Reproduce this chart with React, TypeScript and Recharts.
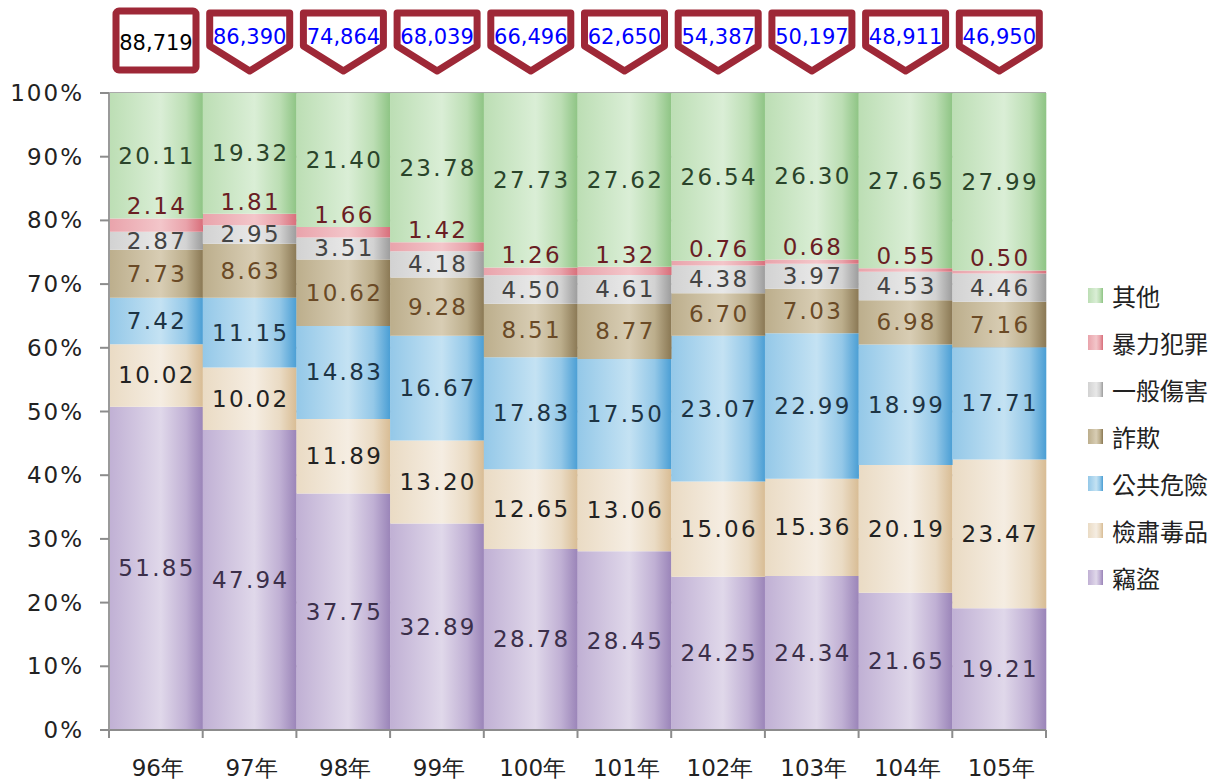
import React from "react";
import { BarChart, Bar, XAxis, YAxis, CartesianGrid, LabelList } from "recharts";

const categories = ["96年", "97年", "98年", "99年", "100年", "101年", "102年", "103年", "104年", "105年"];
const theft = [51.85, 47.94, 37.75, 32.89, 28.78, 28.45, 24.25, 24.34, 21.65, 19.21];
const drugs = [10.02, 10.02, 11.89, 13.2, 12.65, 13.06, 15.06, 15.36, 20.19, 23.47];
const publicDanger = [7.42, 11.15, 14.83, 16.67, 17.83, 17.5, 23.07, 22.99, 18.99, 17.71];
const fraud = [7.73, 8.63, 10.62, 9.28, 8.51, 8.77, 6.7, 7.03, 6.98, 7.16];
const injury = [2.87, 2.95, 3.51, 4.18, 4.5, 4.61, 4.38, 3.97, 4.53, 4.46];
const violent = [2.14, 1.81, 1.66, 1.42, 1.26, 1.32, 0.76, 0.68, 0.55, 0.5];
const other = [20.11, 19.32, 21.4, 23.78, 27.73, 27.62, 26.54, 26.3, 27.65, 27.99];
const totals = [88719, 86390, 74864, 68039, 66496, 62650, 54387, 50197, 48911, 46950];
const yTicks = [0, 0.1, 0.2, 0.3, 0.4, 0.5, 0.6, 0.7, 0.8, 0.9, 1];

const FONT = "'DejaVu Sans', sans-serif";
const W = 1224;
const H = 783;
const X_H = 53;
const M = { top: 93, right: 178, bottom: 0, left: 0 };
const Y_W = 109;
const PLOT_W = W - M.left - M.right - Y_W;
const PLOT_BOTTOM = H - M.bottom - X_H;

type SeriesDef = {
  key: string;
  name: string;
  values: number[];
  c0: string;
  c1: string;
  c2: string;
  label: string;
  above?: boolean;
};

const series: SeriesDef[] = [
  { key: "theft", name: "竊盜", values: theft, c0: "#c0b0d4", c1: "#e0d8ea", c2: "#9a84b8", label: "#3b2f4a" },
  { key: "drugs", name: "檢肅毒品", values: drugs, c0: "#eadbc4", c1: "#f5ede2", c2: "#d8bc94", label: "#222222" },
  { key: "publicDanger", name: "公共危險", values: publicDanger, c0: "#94c8e8", c1: "#c4e2f3", c2: "#4a9ed4", label: "#1d3444" },
  { key: "fraud", name: "詐欺", values: fraud, c0: "#bcae8c", c1: "#d8cdb4", c2: "#8a7854", label: "#6a4a26" },
  { key: "injury", name: "一般傷害", values: injury, c0: "#d2d2d2", c1: "#e8e8e8", c2: "#9c9c9c", label: "#444444" },
  { key: "violent", name: "暴力犯罪", values: violent, c0: "#e9a3ab", c1: "#f3c6ca", c2: "#d86e7a", label: "#6a1e24", above: true },
  { key: "other", name: "其他", values: other, c0: "#bcdeb4", c1: "#daeed6", c2: "#8ec484", label: "#2a442a" },
];

const data = categories.map((cat, i) => {
  const row: Record<string, number | string> = { cat };
  series.forEach((s) => {
    row[s.key] = s.values[i];
  });
  return row;
});

const Gradients = () => (
  <svg width={0} height={0} style={{ position: "absolute" }}>
    <defs>
      {series.map((s) => (
        <linearGradient key={s.key} id={`g-${s.key}`} x1="0" y1="0" x2="1" y2="0">
          <stop offset="0%" stopColor={s.c0} />
          <stop offset="55%" stopColor={s.c1} />
          <stop offset="82%" stopColor={s.c0} />
          <stop offset="100%" stopColor={s.c2} />
        </linearGradient>
      ))}
    </defs>
  </svg>
);

const makeLabel = (s: SeriesDef) => (props: any) => {
  const { x, y, width, height, index } = props;
  const v = s.values[index];
  if (v === undefined) return null;
  const cx = Number(x) + Number(width) / 2;
  const cy = s.above ? Number(y) - 12 : Number(y) + Number(height) / 2;
  return (
    <text
      x={cx + 1}
      y={cy}
      textAnchor="middle"
      dominantBaseline="central"
      fontFamily={FONT}
      fontSize={23}
      letterSpacing={2.3}
      fill={s.label}
    >
      {v.toFixed(2)}
    </text>
  );
};

const Callout = (props: any) => {
  const { x, width, index } = props;
  const cx = Number(x) + Number(width) / 2;
  const t = totals[index];
  if (t === undefined) return null;
  const hw = 40;
  const stroke = "#9e2837";
  if (index === 0) {
    return (
      <g>
        <rect x={cx - hw} y={11} width={hw * 2} height={59} rx={3} fill="#fff" stroke={stroke} strokeWidth={7} />
        <text x={cx} y={43} textAnchor="middle" dominantBaseline="central" fontFamily={FONT} fontSize={21} fill="#000">
          {t.toLocaleString("en-US")}
        </text>
      </g>
    );
  }
  const d = `M${cx - hw},13 L${cx + hw},13 L${cx + hw},46 L${cx},71 L${cx - hw},46 Z`;
  return (
    <g>
      <path d={d} fill="#fff" stroke={stroke} strokeWidth={7} strokeLinejoin="round" />
      <text x={cx} y={37} textAnchor="middle" dominantBaseline="central" fontFamily={FONT} fontSize={21} fill="#0000ff">
        {t.toLocaleString("en-US")}
      </text>
    </g>
  );
};

const XTick = (props: any) => {
  const { x, payload, index } = props;
  const bw = PLOT_W / categories.length;
  const cx = Number(x);
  return (
    <g>
      <line x1={cx - bw / 2} x2={cx - bw / 2} y1={PLOT_BOTTOM} y2={PLOT_BOTTOM + 8} stroke="#8c8c8c" strokeWidth={2} />
      {index === categories.length - 1 && (
        <line x1={cx + bw / 2} x2={cx + bw / 2} y1={PLOT_BOTTOM} y2={PLOT_BOTTOM + 8} stroke="#8c8c8c" strokeWidth={2} />
      )}
      <text x={cx + 2} y={PLOT_BOTTOM + 38} textAnchor="middle" dominantBaseline="central" fontFamily={FONT} fontSize={23} fill="#222">
        {payload.value}
      </text>
    </g>
  );
};

const YTick = (props: any) => {
  const { y, payload } = props;
  return (
    <g>
      <line x1={Y_W - 9} x2={Y_W} y1={y} y2={y} stroke="#8c8c8c" strokeWidth={2} />
      <text x={84} y={y} textAnchor="end" dominantBaseline="central" fontFamily={FONT} fontSize={23} letterSpacing={2} fill="#222">
        {`${Math.round(payload.value * 100)}%`}
      </text>
    </g>
  );
};

const Legend = () => {
  const items = [...series].reverse();
  return (
    <div style={{ position: "absolute", left: 1088, top: 272, fontFamily: FONT }}>
      {items.map((s) => (
        <div key={s.key} style={{ display: "flex", alignItems: "center", height: 47 }}>
          <div
            style={{
              width: 15,
              height: 15,
              background: `linear-gradient(to right, ${s.c0} 0%, ${s.c1} 55%, ${s.c0} 80%, ${s.c2} 100%)`,
              marginRight: 9,
            }}
          />
          <span style={{ fontSize: 24, color: "#222", fontFamily: "'Noto Sans CJK TC', sans-serif" }}>{s.name}</span>
        </div>
      ))}
    </div>
  );
};

export default function App() {
  return (
    <div style={{ position: "absolute", left: 0, top: 0, width: W, height: H, background: "#fff" }}>
      <Gradients />
      <BarChart width={W} height={H} data={data} margin={M} stackOffset="expand" barCategoryGap={0}>
        <CartesianGrid vertical={false} stroke="#aaaaaa" strokeWidth={2} />
        <XAxis
          dataKey="cat"
          tick={<XTick />}
          tickLine={false}
          axisLine={{ stroke: "#8c8c8c", strokeWidth: 2 }}
          interval={0}
          height={X_H}
        />
        <YAxis
          width={Y_W}
          domain={[0, 1]}
          ticks={yTicks}
          tick={<YTick />}
          tickLine={false}
          axisLine={{ stroke: "#9a9a9a", strokeWidth: 2 }}
          interval={0}
        />
        {series.map((s) => (
          <Bar key={s.key} dataKey={s.key} name={s.name} stackId="a" fill={`url(#g-${s.key})`} isAnimationActive={false}>
            <LabelList dataKey={s.key} content={makeLabel(s)} />
            {s.key === "other" && <LabelList dataKey={s.key} content={<Callout />} />}
          </Bar>
        ))}
      </BarChart>
      <Legend />
    </div>
  );
}
